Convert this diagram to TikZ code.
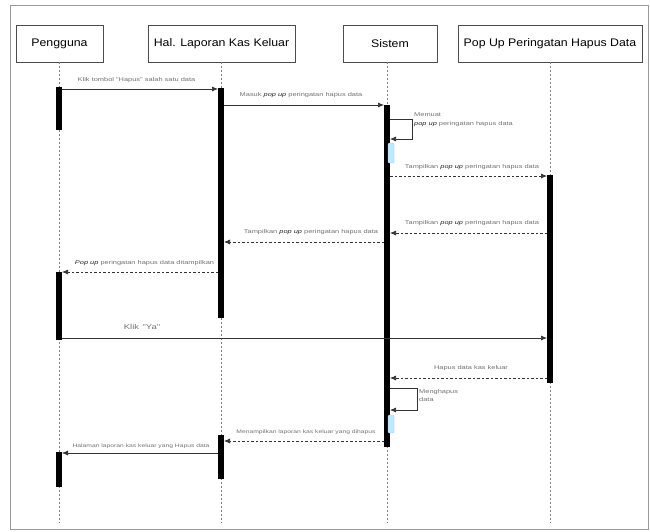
\documentclass[tikz,border=0pt]{standalone}
\usepackage{fontspec}
\setmainfont{Liberation Sans}
\newfontfamily\lblfont[FakeStretch=1.35]{Liberation Sans}
\newfontfamily\headfont[FakeStretch=1.12]{Liberation Sans}
\usetikzlibrary{arrows.meta}
\newcommand{\pu}{\textcolor{black!85}{\textit{pop up}}}
\begin{document}
\begin{tikzpicture}[x=1pt,y=-1pt,
  head/.style={draw=black!70, line width=0.9pt, fill=white, minimum height=37pt,
    inner sep=0pt, font=\headfont\fontsize{11}{12}\selectfont},
  life/.style={draw=black!50, line width=0.6pt, dash pattern=on 2pt off 2pt},
  bar/.style={fill=black, draw=none, minimum width=6pt, inner sep=0pt},
  subbar/.style={fill=blue!35!cyan!25, draw=blue!30!white, line width=0.3pt,
    minimum width=6pt, inner sep=0pt, rounded corners=1pt},
  msg/.style={draw=black!80, line width=0.7pt, -{Latex[length=6pt,width=5pt]}},
  reply/.style={msg, dash pattern=on 2.5pt off 2pt},
  lbl/.style={font=\lblfont\fontsize{5.5}{6.5}\selectfont, text=black!55, inner sep=0pt},
  small lbl/.style={lbl, font=\lblfont\fontsize{5}{6}\selectfont},
  frame/.style={draw=black!40, line width=1pt}
]
\useasboundingbox (0,0) rectangle (650,531);
\fill[white] (0,0) rectangle (650,531);
\draw[frame] (10,529) -- (10,5) -- (648,5) -- (648,529) -- cycle;

% participants
\node[head, minimum width=87pt]  (usr) at (59.5,43.5) {Pengguna};
\node[head, minimum width=147pt] (hal) at (221.5,43.5) {Hal. Laporan Kas Keluar};
\node[head, minimum width=94pt]  (sys) at (390,43.5) {Sistem};
\node[head, minimum width=184pt] (pop) at (550,43.5) {Pop Up Peringatan Hapus Data};

% lifelines
\coordinate (usrE) at (59,523);
\coordinate (halE) at (221,523);
\coordinate (sysE) at (387,523);
\coordinate (popE) at (550,523);
\draw[life] (usr.south -| usrE) -- (usrE);
\draw[life] (hal.south -| halE) -- (halE);
\draw[life] (sys.south -| sysE) -- (sysE);
\draw[life] (pop.south -| popE) -- (popE);

% activation bars
\node[bar, minimum height=43pt]  (u1) at (59,108.5) {};
\node[bar, minimum height=68pt]  (u2) at (59,305.5) {};
\node[bar, minimum height=35pt]  (u3) at (59,469.5) {};
\node[bar, minimum height=230pt] (h1) at (221,203) {};
\node[bar, minimum height=44pt]  (h2) at (221,457) {};
\node[bar, minimum height=342pt] (s1) at (387,276) {};
\node[bar, minimum height=208pt] (p1) at (550,279) {};
\node[subbar, minimum height=20pt] (s2) at (391,153) {};
\node[subbar, minimum height=18pt] (s3) at (391,424) {};

% message end points
\coordinate (m1a) at (62,89);   \coordinate (m1b) at (218,89);
\coordinate (m2a) at (224,105); \coordinate (m2b) at (384,105);
\coordinate (m3a) at (390,119); \coordinate (m3k) at (412,119);
\coordinate (m3l) at (412,139); \coordinate (m3b) at (390,139);
\coordinate (m4a) at (390,176); \coordinate (m4b) at (547,176);
\coordinate (m5a) at (547,233); \coordinate (m5b) at (390,233);
\coordinate (m6a) at (384,242); \coordinate (m6b) at (224,242);
\coordinate (m7a) at (218,272); \coordinate (m7b) at (62,272);
\coordinate (m8a) at (62,338);  \coordinate (m8b) at (547,338);
\coordinate (m9a) at (547,378); \coordinate (m9b) at (390,378);
\coordinate (m10a) at (390,388); \coordinate (m10k) at (417,388);
\coordinate (m10l) at (417,410); \coordinate (m10b) at (390,410);
\coordinate (m11a) at (384,441); \coordinate (m11b) at (224,441);
\coordinate (m12a) at (218,453); \coordinate (m12b) at (62,453);

% messages
\draw[msg] (m1a) -- (m1b);
\node[lbl] (t1) at (136.5,80) {Klik tombol "Hapus" salah satu data};
\draw[msg] (m2a) -- (m2b);
\node[lbl] (t2) at (301,95) {Masuk \pu{} peringatan hapus data};
\draw[msg] (m3a) -- (m3k) -- (m3l) -- (m3b);
\node[lbl, anchor=west, align=left, font=\lblfont\fontsize{5.5}{9}\selectfont] (t3) at (414,119.5) {Memuat\\\pu{} peringatan hapus data};
\draw[reply] (m4a) -- (m4b);
\node[lbl] (t4) at (472,167) {Tampilkan \pu{} peringatan hapus data};
\draw[reply] (m5a) -- (m5b);
\node[lbl] (t5) at (472,223) {Tampilkan \pu{} peringatan hapus data};
\draw[reply] (m6a) -- (m6b);
\node[lbl] (t6) at (311,232) {Tampilkan \pu{} peringatan hapus data};
\draw[reply] (m7a) -- (m7b);
\node[lbl] (t7) at (144.5,263) {\textcolor{black!85}{\textit{Pop up}} peringatan hapus data ditampilkan};
\draw[msg] (m8a) -- (m8b);
\node[lbl, font=\lblfont\fontsize{7}{8}\selectfont] (t8) at (142,327) {Klik\enspace "Ya"};
\draw[reply] (m9a) -- (m9b);
\node[lbl] (t9) at (471,368) {Hapus data kas keluar};
\draw[msg] (m10a) -- (m10k) -- (m10l) -- (m10b);
\node[lbl, anchor=west, align=left, font=\lblfont\fontsize{5.5}{8}\selectfont] (t10) at (419,396) {Menghapus\\data};
\draw[reply] (m11a) -- (m11b);
\node[small lbl] (t11) at (306,432) {Menampilkan laporan kas keluar yang dihapus};
\draw[msg, line width=0.5pt] (m12a) -- (m12b);
\node[small lbl] (t12) at (141,446) {Halaman laporan kas keluar yang Hapus data};
\end{tikzpicture}
\end{document}
